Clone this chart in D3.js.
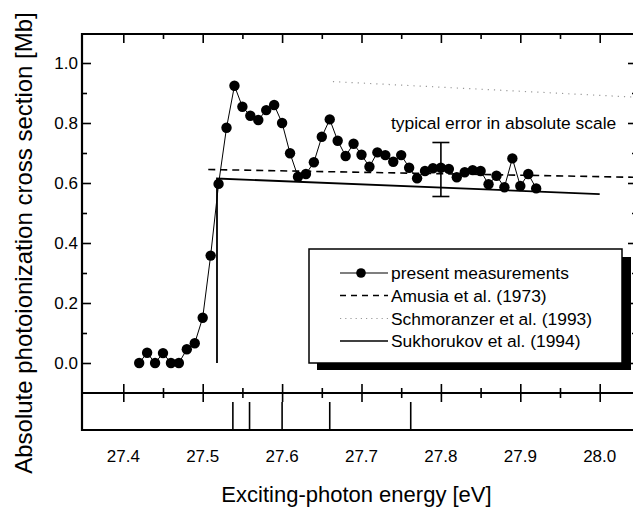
<!DOCTYPE html>
<html>
<head>
<meta charset="utf-8">
<script src="https://cdn.jsdelivr.net/npm/d3@7"></script>
<style>
  body { margin: 0; background: #fff; }
  svg { display: block; font-family: "Liberation Sans", Arial, sans-serif; }
</style>
</head>
<body>
<script>
// measured cross section (Mb) vs photon energy (eV)
const energy = [27.42, 27.43, 27.44, 27.45, 27.46, 27.47, 27.48, 27.49, 27.50, 27.51,
  27.52, 27.53, 27.54, 27.55, 27.56, 27.57, 27.58, 27.59, 27.60, 27.61,
  27.62, 27.63, 27.64, 27.65, 27.66, 27.67, 27.68, 27.69, 27.70, 27.71,
  27.72, 27.73, 27.74, 27.75, 27.76, 27.77, 27.78, 27.79, 27.80, 27.81,
  27.82, 27.83, 27.84, 27.85, 27.86, 27.87, 27.88, 27.89, 27.90, 27.91, 27.92];
const sigma = [0.000, 0.034, 0.000, 0.033, 0.000, 0.000, 0.046, 0.066, 0.151, 0.358,
  0.597, 0.784, 0.924, 0.854, 0.824, 0.810, 0.843, 0.860, 0.800, 0.699,
  0.621, 0.630, 0.669, 0.754, 0.812, 0.741, 0.690, 0.731, 0.694, 0.654,
  0.702, 0.693, 0.671, 0.693, 0.651, 0.616, 0.640, 0.649, 0.651, 0.647,
  0.619, 0.636, 0.643, 0.640, 0.596, 0.624, 0.586, 0.682, 0.590, 0.630, 0.582];

// theory curves
const amusia = [[27.507, 0.645], [28.045, 0.619]];
const schmoranzer = [[27.664, 0.938], [28.045, 0.886]];
const sukhorukov = [[27.518, 0.0], [27.518, 0.615], [28.0, 0.563]];

// typical error bar
const errX = 27.80, errLo = 0.555, errHi = 0.735;

// resonance positions (lower panel)
const resonances = [27.538, 27.559, 27.600, 27.660, 27.762];

const xMajor = [27.4, 27.5, 27.6, 27.7, 27.8, 27.9, 28.0];
const xMinor = [27.45, 27.55, 27.65, 27.75, 27.85, 27.95];
const yMajor = [0.0, 0.2, 0.4, 0.6, 0.8, 1.0];
const yMinor = [0.1, 0.3, 0.5, 0.7, 0.9];

const legendLabels = ["present measurements", "Amusia et al. (1973)",
  "Schmoranzer et al. (1993)", "Sukhorukov et al. (1994)"];

const W = 633, H = 507;
const fLeft = 82, fRight = 635, fTop = 34, axisY = 393, fBottom = 430;

const x = d3.scaleLinear().domain([27.4, 28.0]).range([123.3, 599.7]);
const y = d3.scaleLinear().domain([0, 1.0]).range([363, 63]);

const svg = d3.select("body").append("svg")
  .attr("width", W).attr("height", H);

// clip for main panel
svg.append("clipPath").attr("id", "clip")
  .append("rect").attr("x", fLeft).attr("y", fTop).attr("width", fRight - fLeft).attr("height", axisY - fTop);

function ticks(axis, tx, ty) {
  const g = svg.append("g").attr("transform", "translate(" + tx + "," + ty + ")").call(axis);
  g.select(".domain").remove();
  g.selectAll("line").attr("stroke", "#000").attr("stroke-width", 1.6);
  g.selectAll("text").remove();
  return g;
}

// top ticks (inward)
ticks(d3.axisTop(x).tickValues(xMajor).tickSize(-9), 0, fTop);
ticks(d3.axisTop(x).tickValues(xMinor).tickSize(-5), 0, fTop);
// main axis ticks crossing the line
ticks(d3.axisBottom(x).tickValues(xMajor).tickSize(9), 0, axisY);
ticks(d3.axisTop(x).tickValues(xMajor).tickSize(9), 0, axisY);
ticks(d3.axisBottom(x).tickValues(xMinor).tickSize(5), 0, axisY);
ticks(d3.axisTop(x).tickValues(xMinor).tickSize(5), 0, axisY);
// left and right ticks
ticks(d3.axisLeft(y).tickValues(yMajor).tickSize(-9), fLeft, 0);
ticks(d3.axisLeft(y).tickValues(yMinor).tickSize(-5), fLeft, 0);
ticks(d3.axisRight(y).tickValues(yMajor).tickSize(-7), fRight, 0);
ticks(d3.axisRight(y).tickValues(yMinor).tickSize(-3), fRight, 0);

// frame
const frame = svg.append("g").attr("stroke", "#000").attr("stroke-width", 2.2).attr("fill", "none");
frame.append("line").attr("x1", fLeft).attr("x2", fLeft).attr("y1", fTop - 1).attr("y2", fBottom + 1);
frame.append("line").attr("x1", fLeft).attr("x2", fRight).attr("y1", fTop).attr("y2", fTop);
frame.append("line").attr("x1", fLeft).attr("x2", fRight).attr("y1", axisY).attr("y2", axisY);
frame.append("line").attr("x1", fLeft).attr("x2", fRight).attr("y1", fBottom).attr("y2", fBottom);

// tick labels
svg.append("g").selectAll("text").data(xMajor).join("text")
  .attr("x", d => x(d)).attr("y", 462)
  .attr("text-anchor", "middle").attr("font-size", 17)
  .text(d => d3.format(".1f")(d));
svg.append("g").selectAll("text").data(yMajor).join("text")
  .attr("x", 78).attr("y", d => y(d) + 6)
  .attr("text-anchor", "end").attr("font-size", 17)
  .text(d => d3.format(".1f")(d));

// axis titles
svg.append("text").attr("x", (x(27.4) + x(28.0)) / 2 - 5).attr("y", 502)
  .attr("text-anchor", "middle").attr("font-size", 22)
  .text("Exciting-photon energy [eV]");
svg.append("text").attr("transform", "translate(32,243) rotate(-90)")
  .attr("text-anchor", "middle").attr("font-size", 24)
  .text("Absolute photoionization cross section [Mb]");

// resonance sticks
svg.append("g").selectAll("line").data(resonances).join("line")
  .attr("x1", d => x(d)).attr("x2", d => x(d))
  .attr("y1", 402).attr("y2", fBottom)
  .attr("stroke", "#000").attr("stroke-width", 1.6);

const plot = svg.append("g").attr("clip-path", "url(#clip)");
const line = d3.line().x(d => x(d[0])).y(d => y(d[1]));

plot.append("path").datum(schmoranzer).attr("d", line)
  .attr("fill", "none").attr("stroke", "#999").attr("stroke-width", 1.2)
  .attr("stroke-dasharray", "1.2,5");
plot.append("path").datum(amusia).attr("d", line)
  .attr("fill", "none").attr("stroke", "#000").attr("stroke-width", 1.6)
  .attr("stroke-dasharray", "7,5");
plot.append("path").datum(sukhorukov).attr("d", line)
  .attr("fill", "none").attr("stroke", "#000").attr("stroke-width", 1.8);

const pts = energy.map((e, i) => [e, sigma[i]]);
plot.append("path").datum(pts).attr("d", line)
  .attr("fill", "none").attr("stroke", "#000").attr("stroke-width", 1);
plot.append("g").selectAll("circle").data(pts).join("circle")
  .attr("cx", d => x(d[0])).attr("cy", d => y(d[1])).attr("r", 5.2)
  .attr("fill", "#000");

// error bar
const eb = plot.append("g").attr("stroke", "#000").attr("stroke-width", 1.6);
eb.append("line").attr("x1", x(errX)).attr("x2", x(errX)).attr("y1", y(errLo)).attr("y2", y(errHi));
eb.append("line").attr("x1", x(errX) - 8.5).attr("x2", x(errX) + 8.5).attr("y1", y(errLo)).attr("y2", y(errLo));
eb.append("line").attr("x1", x(errX) - 8.5).attr("x2", x(errX) + 8.5).attr("y1", y(errHi)).attr("y2", y(errHi));
svg.append("text").attr("x", 391).attr("y", 128.5).attr("font-size", 17.4)
  .text("typical error in absolute scale");

// legend with drop shadow
const lg = svg.append("g");
lg.append("rect").attr("x", 317).attr("y", 257).attr("width", 314).attr("height", 113).attr("fill", "#000");
lg.append("rect").attr("x", 309).attr("y", 249).attr("width", 313).attr("height", 114)
  .attr("fill", "#fff").attr("stroke", "#000").attr("stroke-width", 1.5);
const rowY = [273, 295.5, 318.5, 341];
const styles = [
  {stroke: "#000", dash: null, w: 1.2},
  {stroke: "#000", dash: "6,5", w: 1.5},
  {stroke: "#999", dash: "1.2,4", w: 1.2},
  {stroke: "#000", dash: null, w: 1.6}
];
legendLabels.forEach((t, i) => {
  lg.append("line").attr("x1", 340).attr("x2", 388).attr("y1", rowY[i]).attr("y2", rowY[i])
    .attr("stroke", styles[i].stroke).attr("stroke-width", styles[i].w)
    .attr("stroke-dasharray", styles[i].dash);
  if (i === 0) lg.append("circle").attr("cx", 361).attr("cy", rowY[i]).attr("r", 4.8).attr("fill", "#000");
  lg.append("text").attr("x", 391).attr("y", rowY[i] + 6).attr("font-size", 17.4).text(t);
});
</script>
</body>
</html>
